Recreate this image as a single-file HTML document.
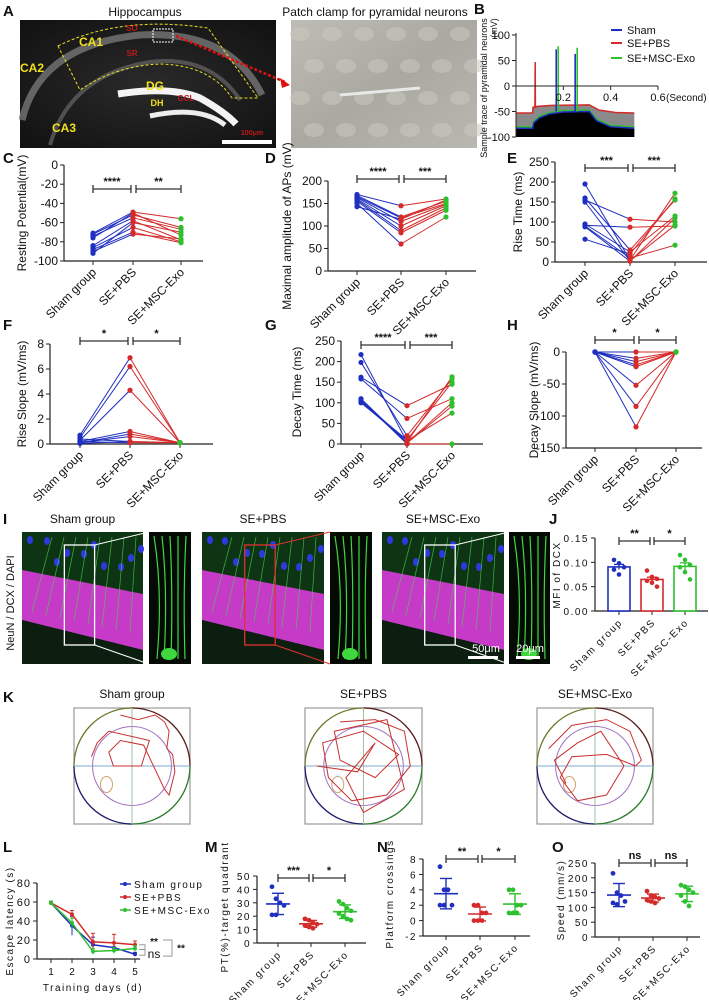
<!DOCTYPE html>
<html><head><meta charset="utf-8">
<style>
html,body{margin:0;padding:0;background:#fff;}
svg{display:block;font-family:"Liberation Sans",Arial,sans-serif;}
</style></head>
<body>
<svg id="fig" xmlns="http://www.w3.org/2000/svg" width="709" height="1000" viewBox="0 0 709 1000">
<defs>
<radialGradient id="hipbg" cx="0.5" cy="0.5" r="0.7"><stop offset="0" stop-color="#2a2a2a"/><stop offset="1" stop-color="#111"/></radialGradient>
<linearGradient id="patchbg" x1="0" y1="0" x2="1" y2="1"><stop offset="0" stop-color="#bdbdb5"/><stop offset="0.5" stop-color="#a9a9a1"/><stop offset="1" stop-color="#b8b8b0"/></linearGradient>
</defs>
<g id="root"></g>
</svg>
<script>
// ===== DATA =====
const groups = ['Sham group','SE+PBS','SE+MSC-Exo'];
const cSham = [-71,-72,-74,-76,-84,-86,-88,-90,-92];
const cPbs  = [-49,-52,-55,-50,-58,-65,-70,-72,-60];
const cExo  = [-56,-65,-67,-73,-78,-80,-81,-77,-70];
const cTicks = [0,-20,-40,-60,-80,-100];
const dSham = [170,168,165,163,160,158,155,150,143];
const dPbs  = [145,120,118,110,100,90,85,60,115];
const dExo  = [160,155,150,148,145,140,135,120,158];
const dTicks = [0,50,100,150,200];
const eSham = [195,160,155,150,95,92,90,88,57];
const ePbs  = [5,30,107,3,25,87,10,2,20];
const eExo  = [172,155,100,92,115,90,42,110,158];
const eTicks = [0,50,100,150,200,250];
const fSham = [0.7,0.5,0.3,0.2,0.1,0.1,0.05,0.4,0.2];
const fPbs  = [6.9,6.2,4.3,1.0,0.8,0.6,0.2,0.2,0.1];
const fExo  = [0.1,0.1,0.1,0.1,0.1,0.1,0.1,0.1,0.1];
const fTicks = [0,2,4,6,8];
const gSham = [217,198,162,158,110,105,100,108,102];
const gPbs  = [5,20,93,62,3,2,8,0,10];
const gExo  = [163,158,145,110,100,92,75,0,150];
const gTicks = [0,50,100,150,200,250];
const hSham = [0,0,0,0,0,0,0,0];
const hPbs  = [0,-10,-15,-20,-23,-52,-85,-117];
const hExo  = [0,0,0,0,0,0,0,0];
const hTicks = [0,-50,-100,-150];
const jSham = [0.105,0.098,0.09,0.085,0.075];
const jPbs  = [0.083,0.07,0.066,0.062,0.058,0.05];
const jExo  = [0.115,0.105,0.095,0.09,0.08,0.065];
const jTicks = [0,0.05,0.10,0.15];
const lDays = [1,2,3,4,5];
const lSham = [59,35,15,12,5];
const lPbs  = [59,47,18,17,15];
const lExo  = [59,38,8,9,11];
const lShamErr = [2,10,8,5,2];
const lPbsErr = [2,4,9,9,4];
const lExoErr = [2,5,3,3,3];
const lTicks = [0,20,40,60,80];
const mSham = [42,33,30,28,21,21];
const mPbs  = [18,17,15,14,13,12,11];
const mExo  = [31,29,26,24,22,20,18,17];
const mTicks = [0,10,20,30,40,50];
const nSham = [7,4,4,2,2,2];
const nPbs  = [2,2,1,1,0,0,0];
const nExo  = [4,4,2,2,1,1,1];
const nTicks = [-2,0,2,4,6,8];
const oSham = [215,150,140,120,115,110];
const oPbs  = [155,140,135,130,125,120,115];
const oExo  = [175,170,160,150,140,120,105];
const oTicks = [0,50,100,150,200,250];
const bRedT = [0,0.07,0.072,0.08,0.081,0.082,0.09,0.15,0.31,0.35,0.42,0.5];
const bRedV = [-53,-53,-42,-40,47,-42,-40,-38,-37,-47,-52,-53];
const bBlueT = [0,0.07,0.075,0.1,0.14,0.2,0.31,0.34,0.4,0.5];
const bBlueV = [-83,-83,-72,-62,-55,-51,-50,-68,-80,-83];
const bSpikeT = [0.17,0.25];
const bBlueSpike = [72,63];
const bGreenSpike = [78,75];
const bTicksY = [100,50,0,-50,-100];
const bTicksX = [0.2,0.4,0.6];

const C = {b:'#1f2fbf', r:'#d42a2a', g:'#2ec02e'};
const NS='http://www.w3.org/2000/svg';
const root=document.getElementById('root');
function mk(tag, attrs, name, parent){
  const el=document.createElementNS(NS,tag);
  for(const k in attrs) el.setAttribute(k,attrs[k]);
  
  
  (parent||root).appendChild(el);
  return el;
}
function txt(x,y,s,name,opt){
  opt=opt||{};
  const a={x:x,y:y,'font-size':opt.fs||11,fill:opt.fill||'#111','text-anchor':opt.anchor||'middle'};
  if(opt.bold)a['font-weight']='bold';
  if(opt.rot!==undefined)a.transform='rotate('+opt.rot+' '+x+' '+y+')';
  if(opt.ls)a['letter-spacing']=opt.ls;
  const t=mk('text',a,name,opt.parent);
  t.textContent=s;return t;
}
function lin(v0,p0,v1,p1){return v=>p0+(v-v0)*(p1-p0)/(v1-v0);}
function letter(x,y,s){txt(x,y,s,'panel-label-'+s.toLowerCase(),{fs:15,bold:true,anchor:'start'});}

function axes(o){
  const g=mk('g',{},o.name+'-axes');
  const yb=o.y(o.ticks[0]<o.ticks[o.ticks.length-1]?o.ticks[0]:o.ticks[o.ticks.length-1]);
  const ybot=o.xAxisY!==undefined?o.xAxisY:yb;
  const yTop=Math.min(...o.ticks.map(o.y));
  const yBot=Math.max(...o.ticks.map(o.y));
  mk('line',{x1:o.ax,y1:yTop,x2:o.ax,y2:yBot,stroke:'#222','stroke-width':1.2},o.name+'-y-axis',g);
  mk('line',{x1:o.ax,y1:ybot,x2:o.end,y2:ybot,stroke:'#222','stroke-width':1.2},o.name+'-x-axis',g);
  o.ticks.forEach(t=>{
    const yy=o.y(t);
    mk('line',{x1:o.ax-4,y1:yy,x2:o.ax,y2:yy,stroke:'#222'},o.name+'-y-tick',g);
    txt(o.ax-6,yy+4,o.fmt?o.fmt(t):String(t),o.name+'-y-tick-label',{anchor:'end',fs:o.tfs||12,ls:o.ls,parent:g});
  });
  if(o.cx){o.cx.forEach((x,i)=>{
    mk('line',{x1:x,y1:ybot,x2:x,y2:ybot+4,stroke:'#222'},o.name+'-x-tick',g);
    if(o.labels!==false) txt(x+4,ybot+12,groups[i],o.name+'-x-label',{anchor:'end',rot:-45,fs:o.lfs||12,ls:o.ls,parent:g});
  });}
  if(o.title) txt(o.tx,o.ty,o.title,o.name+'-y-title',{rot:-90,fs:o.titfs||12,ls:o.ls,parent:g});
  return g;
}
function bracket(x1,x2,y,lab,name){
  mk('line',{x1:x1,y1:y,x2:x2,y2:y,stroke:'#333','stroke-width':1.3},name);
  mk('line',{x1:x1,y1:y-4,x2:x1,y2:y+4,stroke:'#333','stroke-width':1.3},name+'-cap');
  mk('line',{x1:x2,y1:y-4,x2:x2,y2:y+4,stroke:'#333','stroke-width':1.3},name+'-cap');
  txt((x1+x2)/2,y-4,lab,name+'-label',{fs:11,bold:true});
}
function paired(o){
  axes(o);
  const g=mk('g',{},o.name+'-series');
  o.s.forEach((v,i)=>{
    mk('line',{x1:o.cx[0],y1:o.y(v),x2:o.cx[1],y2:o.y(o.p[i]),stroke:C.b,'stroke-width':1},o.name+'-sham-pbs-line',g);
    mk('line',{x1:o.cx[1],y1:o.y(o.p[i]),x2:o.cx[2],y2:o.y(o.e[i]),stroke:C.r,'stroke-width':1},o.name+'-pbs-exo-line',g);
  });
  [[o.s,C.b,'sham'],[o.p,C.r,'pbs'],[o.e,C.g,'exo']].forEach((d,k)=>{
    d[0].forEach(v=>mk('circle',{cx:o.cx[k],cy:o.y(v),r:2.6,fill:d[1]},o.name+'-point-'+d[2],g));
  });
  bracket(o.cx[0],o.cx[1]-2,o.by,o.st[0],o.name+'-sig-1');
  bracket(o.cx[1]+3,o.cx[2],o.by,o.st[1],o.name+'-sig-2');
}

// ===== A =====
letter(3,16,'A');
txt(145,16,'Hippocampus','hippocampus-title',{fs:12});
txt(375,16,'Patch clamp for pyramidal neurons','patch-clamp-title',{fs:12});
(function(){
  const g=mk('g',{},'hippocampus-image');
  mk('rect',{x:20,y:20,width:256,height:128,fill:'url(#hipbg)'},'hippocampus-bg',g);
  mk('path',{d:'M22 120 Q40 45 140 35 Q230 30 262 95',fill:'none',stroke:'#777','stroke-width':7,opacity:0.8},'ca-layer',g);
  mk('path',{d:'M50 145 Q70 75 150 62 Q210 55 240 100',fill:'none',stroke:'#666','stroke-width':4,opacity:0.7},'inner-layer',g);
  mk('path',{d:'M118 94 Q170 86 200 98 Q225 112 236 124',fill:'none',stroke:'#f4f4f4','stroke-width':7},'dg-upper',g);
  mk('path',{d:'M150 116 Q200 105 225 125',fill:'none',stroke:'#eee','stroke-width':5},'dg-lower',g);
  mk('path',{d:'M58 46 Q120 15 208 28 L258 98 L232 98 Q210 65 160 64 Q115 66 80 90 Z',fill:'none',stroke:'#e8e020','stroke-width':1,'stroke-dasharray':'3,2'},'ca1-outline',g);
  mk('rect',{x:153,y:29,width:20,height:13,fill:'none',stroke:'#fff','stroke-dasharray':'2,1'},'roi-box',g);
  mk('line',{x1:176,y1:36,x2:285,y2:82,stroke:'#e01010','stroke-width':2.5,'stroke-dasharray':'3,2'},'roi-arrow',g);
  mk('polygon',{points:'290,85 280,78 282,88',fill:'#e01010'},'roi-arrowhead',g);
  [['CA1',91,46],['CA2',32,72],['CA3',64,132],['DG',155,90],['DH',157,106]].forEach(a=>txt(a[1],a[2],a[0],'region-label',{fill:'#f0e020',fs:a[0]=='DH'?9:12,bold:true,parent:g}));
  [['SO',132,31],['SR',132,56],['GCL',186,101]].forEach(a=>txt(a[1],a[2],a[0],'layer-label',{fill:'#c01818',fs:8,bold:true,parent:g}));
  mk('rect',{x:222,y:140,width:50,height:4,fill:'#fff'},'scale-bar',g);
  txt(252,135,'100μm','scale-bar-label',{fill:'#c01818',fs:7,bold:true,parent:g});
  const p=mk('g',{},'patch-image');
  mk('rect',{x:291,y:20,width:186,height:128,fill:'url(#patchbg)'},'patch-bg',p);
  for(let i=0;i<6;i++)for(let j=0;j<4;j++)mk('ellipse',{cx:300+i*32+(j%2)*14,cy:34+j*32,rx:10,ry:7,fill:'#c8c8c0',opacity:0.55},'cell-blob',p);
  mk('path',{d:'M340 95 L420 88',stroke:'#e8e8e8','stroke-width':3},'pipette',p);
})();

// ===== B =====
letter(474,14,'B');
(function(){
  const xs=lin(0,516,0.6,658), ys=lin(100,35,-100,137);
  const g=mk('g',{},'trace-chart');
  const path=(T,V)=>T.map((t,i)=>(i?'L':'M')+xs(t).toFixed(1)+' '+ys(V[i]).toFixed(1)).join(' ');
  const base=' L'+xs(0.5)+' '+ys(-100)+' L'+xs(0)+' '+ys(-100)+' Z';
  mk('path',{d:path(bRedT,bRedV)+base,fill:'#8a8a8a'},'pbs-area',g);
  mk('path',{d:path(bBlueT,bBlueV)+base,fill:'#000'},'sham-area',g);
  mk('path',{d:path(bRedT,bRedV),fill:'none',stroke:C.r,'stroke-width':1.5},'pbs-trace',g);
  mk('path',{d:path(bBlueT,bBlueV.map(v=>v+3)),fill:'none',stroke:C.g,'stroke-width':1.3},'exo-trace',g);
  mk('path',{d:path(bBlueT,bBlueV),fill:'none',stroke:C.b,'stroke-width':1.5},'sham-trace',g);
  bSpikeT.forEach((t,i)=>{
    mk('line',{x1:xs(t)+2,y1:ys(-50),x2:xs(t)+2,y2:ys(bGreenSpike[i]),stroke:C.g,'stroke-width':1.6},'exo-spike',g);
    mk('line',{x1:xs(t),y1:ys(-50),x2:xs(t),y2:ys(bBlueSpike[i]),stroke:C.b,'stroke-width':1.6},'sham-spike',g);
  });
  mk('line',{x1:516,y1:33,x2:516,y2:137,stroke:'#222'},'b-y-axis',g);
  mk('line',{x1:516,y1:ys(0),x2:658,y2:ys(0),stroke:'#222'},'b-x-axis',g);
  bTicksY.forEach(t=>{mk('line',{x1:512,y1:ys(t),x2:516,y2:ys(t),stroke:'#222'},'b-y-tick',g);txt(510,ys(t)+4,String(t),'b-y-tick-label',{anchor:'end',fs:11,parent:g});});
  bTicksX.forEach(t=>{mk('line',{x1:xs(t),y1:ys(0),x2:xs(t),y2:ys(0)+4,stroke:'#222'},'b-x-tick',g);txt(xs(t),ys(0)+15,String(t),'b-x-tick-label',{fs:11,parent:g});});
  txt(666,ys(0)+15,'(Second)','b-x-title',{fs:10,anchor:'start',parent:g});
  txt(487,88,'Sample trace of pyramidal neurons','b-y-title',{rot:-90,fs:9,parent:g});
  txt(497,28,'(mV)','b-y-unit',{rot:-90,fs:9,parent:g});
  [['Sham',C.b,30],['SE+PBS',C.r,43],['SE+MSC-Exo',C.g,58]].forEach(l=>{
    mk('line',{x1:611,y1:l[2],x2:622,y2:l[2],stroke:l[1],'stroke-width':2},'legend-swatch',g);
    txt(627,l[2]+4,l[0],'legend-entry',{anchor:'start',fs:11,parent:g});
  });
})();

// ===== C-H =====
letter(3,163,'C');
paired({name:'c',ax:64,cx:[93,133,181],end:203,y:lin(0,165,-100,261),ticks:cTicks,s:cSham,p:cPbs,e:cExo,title:'Resting Potential(mV)',tx:26,ty:213,by:189,st:['****','**']});
letter(265,163,'D');
paired({name:'d',ax:328,cx:[357,401,446],end:476,y:lin(200,181,0,271),ticks:dTicks,s:dSham,p:dPbs,e:dExo,title:'Maximal amplitude of APs (mV)',tx:291,ty:226,by:179,st:['****','***']});
letter(507,163,'E');
paired({name:'e',ax:555,cx:[585,630,675],end:707,y:lin(250,162,0,262),ticks:eTicks,s:eSham,p:ePbs,e:eExo,title:'Rise Time (ms)',tx:522,ty:212,by:168,st:['***','***']});
letter(3,330,'F');
paired({name:'f',ax:50,cx:[80,130,180],end:213,y:lin(8,344,0,444),ticks:fTicks,s:fSham,p:fPbs,e:fExo,title:'Rise Slope (mV/ms)',tx:26,ty:394,by:341,st:['*','*']});
letter(265,330,'G');
paired({name:'g',ax:341,cx:[361,407,452],end:483,y:lin(250,341,0,444),ticks:gTicks,s:gSham,p:gPbs,e:gExo,title:'Decay Time (ms)',tx:301,ty:392,by:345,st:['****','***']});
letter(507,330,'H');
paired({name:'h',ax:566,cx:[595,636,676],end:702,y:lin(0,352,-150,448),ticks:hTicks,s:hSham,p:hPbs,e:hExo,title:'Decay Slope (mV/ms)',tx:538,ty:400,by:340,st:['*','*']});

// ===== I =====
letter(3,524,'I');
txt(14,603,'NeuN / DCX / DAPI','i-channel-label',{rot:-90,fs:11});
(function(){
  const pan=[[22,143,149,191,'Sham group','#fff'],[202,324,330,372,'SE+PBS','#e03030'],[382,504,509,550,'SE+MSC-Exo','#fff']];
  pan.forEach((p,k)=>{
    const g=mk('g',{},'if-image-'+k);
    const x0=p[0],x1=p[1],y0=532,y1=664,w=x1-x0;
    txt((x0+x1)/2,523,p[4],'i-title',{fs:12,parent:g});
    mk('rect',{x:x0,y:y0,width:w,height:y1-y0,fill:'#0d3514'},'if-bg',g);
    mk('polygon',{points:`${x0},${y0+38} ${x1},${y0+62} ${x1},${y0+118} ${x0},${y0+88}`,fill:'#c63ac8'},'neun-band',g);
    mk('polygon',{points:`${x0},${y0+88} ${x1},${y0+118} ${x1},${y1} ${x0},${y1}`,fill:'#0c1e10'},'lower-region',g);
    for(let i=0;i<10;i++)mk('ellipse',{cx:x0+8+((i*37)%w),cy:y0+8+((i*13)%30),rx:3,ry:4,fill:'#2c3ae0'},'dapi-nucleus',g);
    for(let i=0;i<8;i++)mk('line',{x1:x0+10+i*14,y1:y0+80+i*3,x2:x0+30+i*12,y2:y0+5,stroke:'#4ad050','stroke-width':0.7,opacity:0.8},'dcx-fiber',g);
    const bx=x0+0.35*w, bw=0.25*w;
    mk('rect',{x:bx,y:y0+13,width:bw,height:100,fill:'none',stroke:p[5],'stroke-width':1.3},'zoom-box',g);
    mk('line',{x1:bx+bw,y1:y0+13,x2:p[2],y2:y0,stroke:p[5]},'zoom-line',g);
    mk('line',{x1:bx+bw,y1:y0+113,x2:p[2],y2:y1,stroke:p[5]},'zoom-line',g);
    mk('rect',{x:p[2],y:y0,width:p[3]-p[2],height:y1-y0,fill:'#050a05'},'inset-bg',g);
    for(let i=0;i<5;i++)mk('path',{d:`M${p[2]+8+i*7} ${y1-5} Q${p[2]+14+i*5} ${y0+60} ${p[2]+5+i*8} ${y0+4}`,fill:'none',stroke:'#3ed83e','stroke-width':1.2},'inset-dendrite',g);
    mk('ellipse',{cx:p[2]+20,cy:y1-10,rx:8,ry:6,fill:'#3ed83e'},'inset-soma',g);
  });
  mk('rect',{x:468,y:656,width:30,height:3,fill:'#fff'},'scale-bar-50',root);
  txt(486,652,'50μm','scale-50-label',{fill:'#fff',fs:11});
  mk('rect',{x:516,y:656,width:24,height:3,fill:'#fff'},'scale-bar-20',root);
  txt(530,652,'20μm','scale-20-label',{fill:'#fff',fs:11});
})();

const mean=a=>a.reduce((s,v)=>s+v,0)/a.length;
const sd=a=>{const m=mean(a);return Math.sqrt(a.reduce((s,v)=>s+(v-m)*(v-m),0)/(a.length-1));};

// ===== J =====
letter(549,524,'J');
(function(){
  const y=lin(0,611,0.15,538), cx=[619,652,685];
  axes({name:'j',ax:595,cx:cx,end:708,y:y,ticks:jTicks,fmt:t=>t.toFixed(2),title:'MFI of DCX',tx:560,ty:575,tfs:10,lfs:10,ls:'1.5',titfs:10});
  [[jSham,C.b],[jPbs,C.r],[jExo,C.g]].forEach((d,k)=>{
    const m=mean(d[0]),se=sd(d[0])/Math.sqrt(d[0].length);
    mk('rect',{x:cx[k]-11,y:y(m),width:22,height:611-y(m),fill:'#fff',stroke:d[1],'stroke-width':1.6},'j-bar-'+k,root);
    mk('line',{x1:cx[k],y1:y(m-se),x2:cx[k],y2:y(m+se),stroke:d[1],'stroke-width':1.3},'j-error',root);
    mk('line',{x1:cx[k]-5,y1:y(m+se),x2:cx[k]+5,y2:y(m+se),stroke:d[1],'stroke-width':1.3},'j-error-cap',root);
    d[0].forEach((v,i)=>mk('circle',{cx:cx[k]+((i%3)-1)*5,cy:y(v),r:2.3,fill:d[1]},'j-point',root));
  });
  bracket(cx[0],cx[1]-2,541,'**','j-sig-1');
  bracket(cx[1]+2,cx[2],541,'*','j-sig-2');
})();

// ===== K =====
letter(3,702,'K');
(function(){
  const mz=[[74,190,'Sham group'],[305,422,'SE+PBS'],[537,653,'SE+MSC-Exo']];
  const paths=[
    [[0.4,0.06],[0.55,0.1],[0.7,0.06],[0.78,0.12],[0.82,0.2],[0.8,0.35],[0.85,0.4],[0.87,0.55],[0.82,0.75],[0.78,0.7],[0.6,0.32],[0.4,0.28],[0.3,0.38],[0.34,0.5],[0.58,0.5],[0.65,0.28],[0.3,0.2],[0.2,0.3],[0.15,0.42]],
    [[0.3,0.12],[0.6,0.1],[0.85,0.2],[0.9,0.5],[0.7,0.75],[0.4,0.8],[0.2,0.6],[0.15,0.3],[0.5,0.2],[0.8,0.4],[0.6,0.6],[0.3,0.45],[0.25,0.2],[0.7,0.1],[0.85,0.7],[0.5,0.9],[0.35,0.6],[0.6,0.3],[0.45,0.55],[0.1,0.5]],
    [[0.1,0.35],[0.3,0.15],[0.6,0.1],[0.8,0.2],[0.9,0.45],[0.85,0.5],[0.6,0.4],[0.3,0.42],[0.2,0.6],[0.35,0.8],[0.6,0.75],[0.75,0.5],[0.55,0.2],[0.35,0.3],[0.15,0.45],[0.25,0.65]]
  ];
  mz.forEach((m,k)=>{
    const g=mk('g',{},'maze-'+k);
    const x0=m[0],x1=m[1],y0=708,y1=824,cx=(x0+x1)/2,cy=(y0+y1)/2,rx=(x1-x0)/2,ry=(y1-y0)/2;
    txt(cx,698,m[2],'k-title',{fs:12,parent:g});
    mk('rect',{x:x0,y:y0,width:x1-x0,height:y1-y0,fill:'#fff',stroke:'#999','stroke-width':1.2},'maze-box',g);
    mk('path',{d:`M${cx} ${y0} A${rx} ${ry} 0 0 0 ${x0} ${cy}`,fill:'none',stroke:'#6a7a2a','stroke-width':1.3},'quadrant-arc',g);
    mk('path',{d:`M${x0} ${cy} A${rx} ${ry} 0 0 0 ${cx} ${y1}`,fill:'none',stroke:'#1a1a6a','stroke-width':1.3},'quadrant-arc',g);
    mk('path',{d:`M${cx} ${y1} A${rx} ${ry} 0 0 0 ${x1} ${cy}`,fill:'none',stroke:'#2a7a2a','stroke-width':1.3},'quadrant-arc',g);
    mk('path',{d:`M${x1} ${cy} A${rx} ${ry} 0 0 0 ${cx} ${y0}`,fill:'none',stroke:'#5a1a1a','stroke-width':1.3},'quadrant-arc',g);
    mk('ellipse',{cx:cx,cy:cy,rx:rx*0.68,ry:ry*0.68,fill:'none',stroke:'#a070c0','stroke-width':1},'inner-ring',g);
    mk('line',{x1:x0,y1:cy,x2:x1,y2:cy,stroke:'#80a8d0'},'quadrant-h',g);
    mk('line',{x1:cx,y1:y0,x2:cx,y2:y1,stroke:'#a0c0a0'},'quadrant-v',g);
    mk('ellipse',{cx:x0+0.28*(x1-x0),cy:y0+0.66*(y1-y0),rx:6,ry:8,fill:'none',stroke:'#d0a070'},'platform',g);
    mk('polyline',{points:paths[k].map(p=>(x0+p[0]*(x1-x0)).toFixed(1)+','+(y0+p[1]*(y1-y0)).toFixed(1)).join(' '),fill:'none',stroke:'#c83030','stroke-width':1},'swim-path',g);
  });
})();

// ===== L =====
letter(3,852,'L');
(function(){
  const x=lin(1,51,5,135), y=lin(0,959,80,883);
  const g=mk('g',{},'l-chart');
  mk('line',{x1:37,y1:883,x2:37,y2:959,stroke:'#222','stroke-width':1.2},'l-y-axis',g);
  mk('line',{x1:37,y1:959,x2:140,y2:959,stroke:'#222','stroke-width':1.2},'l-x-axis',g);
  lTicks.forEach(t=>{mk('line',{x1:33,y1:y(t),x2:37,y2:y(t),stroke:'#222'},'l-y-tick',g);txt(31,y(t)+4,String(t),'l-y-tick-label',{anchor:'end',fs:11,ls:'1',parent:g});});
  lDays.forEach(d=>{mk('line',{x1:x(d),y1:959,x2:x(d),y2:963,stroke:'#222'},'l-x-tick',g);txt(x(d),975,String(d),'l-x-tick-label',{fs:10,parent:g});});
  txt(93,991,'Training days (d)','l-x-title',{fs:10,ls:'1.5',parent:g});
  txt(13,921,'Escape latency (s)','l-y-title',{rot:-90,fs:10,ls:'1.5',parent:g});
  [[lSham,lShamErr,C.b],[lPbs,lPbsErr,C.r],[lExo,lExoErr,C.g]].forEach((s,k)=>{
    s[0].forEach((v,i)=>{mk('line',{x1:x(lDays[i]),y1:y(v-s[1][i]),x2:x(lDays[i]),y2:y(v+s[1][i]),stroke:s[2]},'l-error',g);
      mk('line',{x1:x(lDays[i])-2,y1:y(v+s[1][i]),x2:x(lDays[i])+2,y2:y(v+s[1][i]),stroke:s[2]},'l-error-cap',g);});
    mk('polyline',{points:s[0].map((v,i)=>x(lDays[i])+','+y(v)).join(' '),fill:'none',stroke:s[2],'stroke-width':1.5},'l-line-'+k,g);
    s[0].forEach((v,i)=>mk('circle',{cx:x(lDays[i]),cy:y(v),r:2,fill:s[2]},'l-point',g));
  });
  [['Sham group',C.b,884],['SE+PBS',C.r,897],['SE+MSC-Exo',C.g,910]].forEach(l=>{
    mk('line',{x1:120,y1:l[2],x2:131,y2:l[2],stroke:l[1],'stroke-width':1.5},'l-legend-swatch',g);
    mk('circle',{cx:125,cy:l[2],r:2,fill:l[1]},'l-legend-dot',g);
    txt(134,l[2]+4,l[0],'l-legend-entry',{anchor:'start',fs:10,ls:'1.5',parent:g});
  });
  mk('path',{d:`M139 ${y(15)} H145 V${y(10)} H139 M139 ${y(10)} H145 V${y(4)} H139`,fill:'none',stroke:'#999'},'l-bracket-inner',g);
  mk('path',{d:`M163 ${y(20)} H172 V${y(3)} H163`,fill:'none',stroke:'#999'},'l-bracket-outer',g);
  txt(154,y(15),'**','l-sig-1',{fs:10,bold:true,parent:g});
  txt(154,y(1),'ns','l-sig-2',{fs:12,parent:g});
  txt(181,y(8),'**','l-sig-3',{fs:10,bold:true,parent:g});
})();

// ===== M N O =====
function scatter(o){
  axes(o);
  [[o.s,C.b],[o.p,C.r],[o.e,C.g]].forEach((d,k)=>{
    const m=mean(d[0]),s=sd(d[0]),cx=o.cx[k];
    d[0].forEach((v,i)=>mk('circle',{cx:cx+((i%4)-1.5)*4,cy:o.y(v),r:2.4,fill:d[1]},o.name+'-point',root));
    mk('line',{x1:cx,y1:o.y(m-s),x2:cx,y2:o.y(m+s),stroke:d[1],'stroke-width':1.4},o.name+'-sd',root);
    mk('line',{x1:cx-12,y1:o.y(m),x2:cx+12,y2:o.y(m),stroke:d[1],'stroke-width':1.6},o.name+'-mean',root);
    [m-s,m+s].forEach(v=>mk('line',{x1:cx-6,y1:o.y(v),x2:cx+6,y2:o.y(v),stroke:d[1],'stroke-width':1.4},o.name+'-sd-cap',root));
  });
  bracket(o.cx[0],o.cx[1]-2,o.by,o.st[0],o.name+'-sig-1');
  bracket(o.cx[1]+2,o.cx[2],o.by,o.st[1],o.name+'-sig-2');
}
letter(205,852,'M');
scatter({name:'m',ax:257,cx:[278,311,345],end:366,y:lin(0,943,50,876),ticks:mTicks,s:mSham,p:mPbs,e:mExo,title:'PT(%)-target quadrant',tx:228,ty:907,tfs:10,lfs:10,ls:'1.5',titfs:10,by:878,st:['***','*']});
letter(377,852,'N');
scatter({name:'n',ax:423,cx:[446,480,515],end:530,y:lin(8,859,-2,936),ticks:nTicks,xAxisY:936,s:nSham,p:nPbs,e:nExo,title:'Platform crossings',tx:393,ty:894,tfs:10,lfs:10,ls:'1.5',titfs:10,by:859,st:['**','*']});
letter(552,852,'O');
scatter({name:'o',ax:595,cx:[619,653,687],end:700,y:lin(250,863,0,937),ticks:oTicks,s:oSham,p:oPbs,e:oExo,title:'Speed (mm/s)',tx:564,ty:900,tfs:10,lfs:10,ls:'1.5',titfs:10,by:863,st:['ns','ns']});
</script>
</body></html>
